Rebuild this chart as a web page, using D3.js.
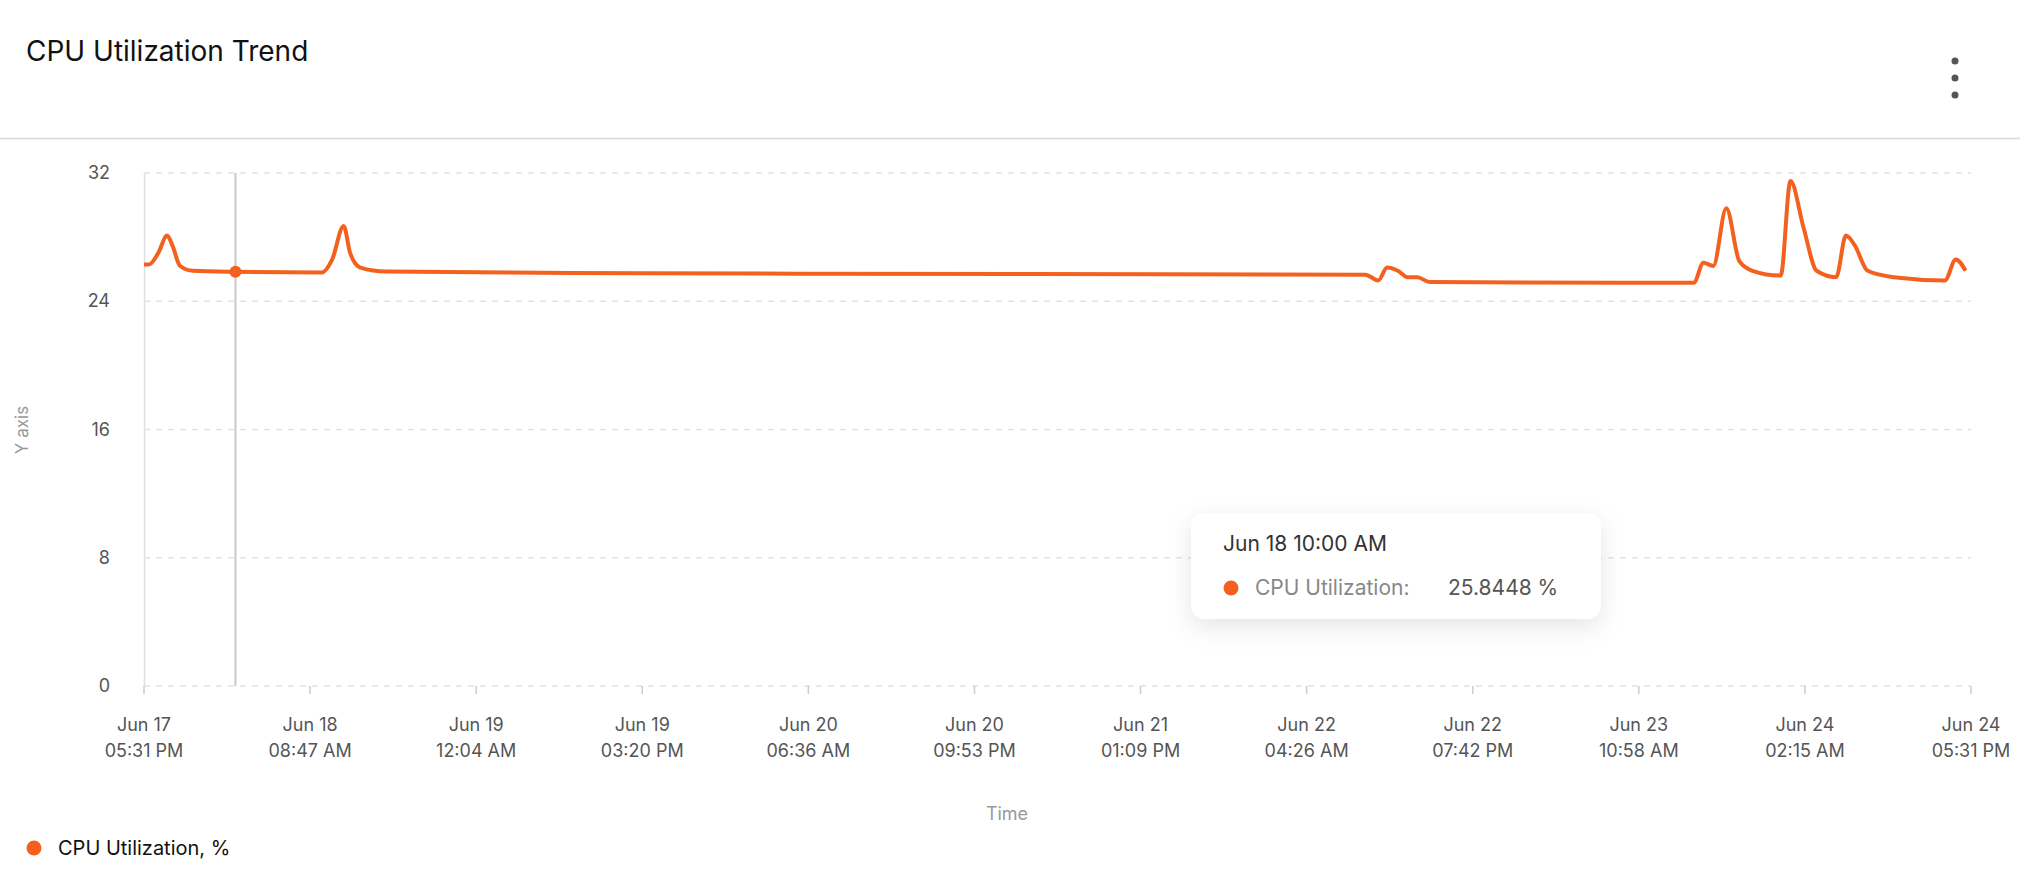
<!DOCTYPE html>
<html><head><meta charset="utf-8">
<script src="https://cdn.jsdelivr.net/npm/d3@7/dist/d3.min.js"></script>
<style>body{margin:0;background:#fff;font-family:Inter,"Noto Sans",sans-serif;}</style>
</head><body><svg id="c" width="2020" height="885"></svg>
<script>
const hours = [0,0.47,1.3,2.13,2.6,3.32,4.5,8.41,16.35,17.3,18.36,18.96,19.9,22.27,45.97,81.5,112.3,113.5,114.3,115.3,116.2,117.1,118.2,142.5,143.4,144.3,145.5,146.7,147.9,150.5,151.4,152.6,153.8,155.6,156.5,157.3,158.5,160.9,165.6,166.6,167.5];
const cpu = [26.3,26.3,27.0,28.1,27.5,26.2,25.9,25.84,25.8,26.6,28.7,27.0,26.1,25.85,25.75,25.7,25.66,25.3,26.1,25.9,25.5,25.5,25.2,25.15,26.4,26.2,29.8,26.5,25.9,25.6,31.5,28.6,25.9,25.5,28.1,27.5,25.9,25.5,25.3,26.6,25.9];
const tickLabels = [["Jun 17","05:31 PM"],["Jun 18","08:47 AM"],["Jun 19","12:04 AM"],["Jun 19","03:20 PM"],["Jun 20","06:36 AM"],["Jun 20","09:53 PM"],["Jun 21","01:09 PM"],["Jun 22","04:26 AM"],["Jun 22","07:42 PM"],["Jun 23","10:58 AM"],["Jun 24","02:15 AM"],["Jun 24","05:31 PM"]];
const yTicks = [0,8,16,24,32];
const hoverIndex = 7;
const tooltipTitle = "Jun 18 10:00 AM", tooltipLabel = "CPU Utilization:", tooltipValue = "25.8448 %";
const color = "#f4611f";

const svg = d3.select("#c");
const x = d3.scaleLinear().domain([0,168]).range([144,1971]);
const y = d3.scaleLinear().domain([0,32]).range([686,173]);
const defs = svg.append("defs");
const f = defs.append("filter").attr("id","sh").attr("x","-20%").attr("y","-30%").attr("width","140%").attr("height","180%");
f.append("feDropShadow").attr("dx",0).attr("dy",8).attr("stdDeviation",12).attr("flood-color","#000").attr("flood-opacity",0.1);

svg.append("text").attr("x",26).attr("y",61).attr("font-size",28).attr("fill","#111").text("CPU Utilization Trend");
[61,78,95].forEach(cy=>svg.append("circle").attr("cx",1955).attr("cy",cy).attr("r",3.5).attr("fill","#555"));
svg.append("line").attr("x1",0).attr("x2",2020).attr("y1",138.5).attr("y2",138.5).attr("stroke","#d6d6d6").attr("stroke-width",1.5);

// grid
svg.append("g").selectAll("line").data(yTicks).join("line")
 .attr("x1",144).attr("x2",1971).attr("y1",d=>y(d)).attr("y2",d=>y(d))
 .attr("stroke","#e2e2e2").attr("stroke-width",1.5).attr("stroke-dasharray","6,6");
svg.append("g").selectAll("text").data(yTicks).join("text")
 .attr("x",110).attr("y",d=>y(d)+6).attr("text-anchor","end").attr("font-size",18).attr("fill","#555").text(d=>d);
svg.append("line").attr("x1",144.5).attr("x2",144.5).attr("y1",173).attr("y2",686).attr("stroke","#e0e0e0").attr("stroke-width",1.5);

// x ticks
const tickPos = d3.range(tickLabels.length).map(i=>i*168/(tickLabels.length-1));
const xg = svg.append("g");
tickPos.forEach((t,i)=>{
  xg.append("line").attr("x1",x(t)).attr("x2",x(t)).attr("y1",686).attr("y2",694).attr("stroke","#ccc").attr("stroke-width",1.5);
  const tx = xg.append("text").attr("x",x(t)).attr("text-anchor","middle").attr("font-size",18).attr("fill","#555");
  tx.append("tspan").attr("x",x(t)).attr("y",731).text(tickLabels[i][0]);
  tx.append("tspan").attr("x",x(t)).attr("y",757).text(tickLabels[i][1]);
});

svg.append("text").attr("transform","translate(28,430) rotate(-90)").attr("text-anchor","middle").attr("font-size",17).attr("fill","#999").text("Y axis");
svg.append("text").attr("x",1007).attr("y",820).attr("text-anchor","middle").attr("font-size",18).attr("fill","#999").text("Time");

// hover line
const hx = x(hours[hoverIndex]);
svg.append("line").attr("x1",hx).attr("x2",hx).attr("y1",173).attr("y2",686).attr("stroke","#c8c8c8").attr("stroke-width",2);

const line = d3.line().x((d,i)=>x(hours[i])).y(d=>y(d)).curve(d3.curveMonotoneX);
svg.append("path").datum(cpu).attr("d",line).attr("fill","none").attr("stroke",color).attr("stroke-width",4).attr("stroke-linejoin","round");
svg.append("circle").attr("cx",hx).attr("cy",y(cpu[hoverIndex])).attr("r",6).attr("fill",color);

// tooltip
const tt = svg.append("g").attr("transform","translate(1191,513)");
tt.append("rect").attr("width",410).attr("height",106).attr("rx",14).attr("fill","#fff").attr("filter","url(#sh)");
tt.append("text").attr("x",32).attr("y",38).attr("font-size",21).attr("fill","#333").text(tooltipTitle);
tt.append("circle").attr("cx",40).attr("cy",75).attr("r",7.5).attr("fill",color);
tt.append("text").attr("x",64).attr("y",82).attr("font-size",21).attr("fill","#888").text(tooltipLabel);
tt.append("text").attr("x",257).attr("y",82).attr("font-size",21).attr("fill","#555").text(tooltipValue);

// legend
svg.append("circle").attr("cx",34).attr("cy",848).attr("r",7.5).attr("fill",color);
svg.append("text").attr("x",58).attr("y",855).attr("font-size",20).attr("fill","#111").text("CPU Utilization, %");
</script></body></html>
